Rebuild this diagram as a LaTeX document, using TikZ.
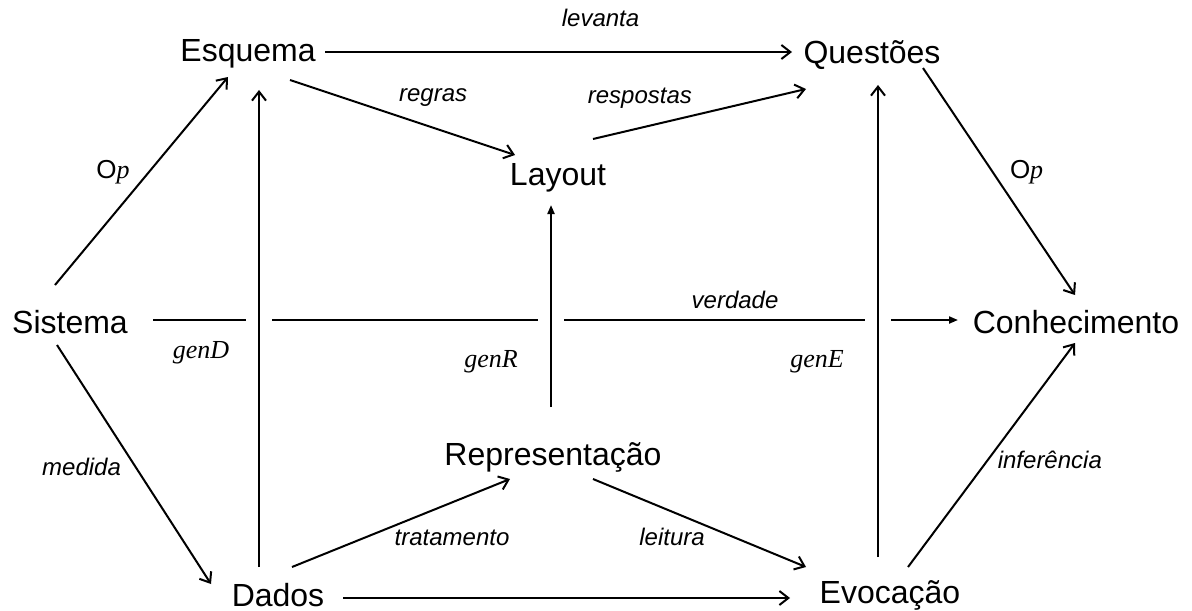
\documentclass[tikz,border=0pt]{standalone}
\usepackage{fontspec}
\setmainfont{Liberation Sans}
\newfontfamily\genfont{Liberation Serif}
\usetikzlibrary{arrows.meta}
\newcommand{\Op}{O{\genfont\itshape p}}

\begin{document}
\begin{tikzpicture}[
    x=0.5pt, y=-0.5pt,
    line width=1pt,
    every node/.style={inner sep=0pt},
    box/.style={anchor=base, font=\fontsize{16}{19}\selectfont},
    lbl/.style={font=\fontsize{12}{14}\selectfont\itshape},
    gen/.style={font=\fontsize{13}{15}\selectfont\genfont\itshape},
    oplbl/.style={font=\fontsize{13}{15}\selectfont},
    arr/.style={-{Straight Barb[length=4.5pt,width=7pt]}},
    farr/.style={-{Triangle[length=4.5pt,width=3.5pt]}},
    halo/.style={preaction={draw=white, line width=13pt, -}}
]
\useasboundingbox (0,0) rectangle (1192,610);

% conceitos
\node[box] (esq) at (248,62) {Esquema};
\node[box] (que) at (872,64) {Questões};
\node[box] (lay) at (558,185) {Layout};
\node[box] (sis) at (70,333) {Sistema};
\node[box] (con) at (1076,333) {Conhecimento};
\node[box] (rep) at (553,465) {Representação};
\node[box] (dad) at (278,606) {Dados};
\node[box] (evo) at (890,603) {Evocação};

% linha horizontal (interrompida pelas verticais)
\draw[farr] ([shift={(83,-13)}]sis.base) -- node[lbl, pos=.723, yshift=10pt] {verdade} ([shift={(-118,-13)}]con.base);

% verticais
\draw[arr, halo] ([shift={(-19,-39)}]dad.base) -- node[gen, pos=.449, xshift=-29pt] {genD} ([shift={(11,28)}]esq.base);
\draw[farr, halo] ([shift={(-2,-58)}]rep.base) -- node[gen, pos=.223, xshift=-30pt] {genR} ([shift={(-7,20)}]lay.base);
\draw[arr, halo] ([shift={(-12,-46)}]evo.base) -- node[gen, pos=.413, xshift=-30.5pt] {genE} ([shift={(6,21)}]que.base);

% parte de cima
\draw[arr] ([shift={(77,-10)}]esq.base) -- node[lbl, pos=.59, yshift=17pt] {levanta} ([shift={(-80,-12)}]que.base);
\draw[arr] ([shift={(42,18)}]esq.base) -- node[lbl, pos=.636, yshift=15pt] {regras} ([shift={(-43,-30)}]lay.base);
\draw[arr] ([shift={(35,-46)}]lay.base) -- node[lbl, pos=.22, yshift=15pt] {respostas} ([shift={(-66,25)}]que.base);
\draw[arr] ([shift={(-15,-48)}]sis.base) -- node[oplbl, pos=.543, xshift=-18pt] {\Op} ([shift={(-20,15)}]esq.base);
\draw[arr] ([shift={(51,4)}]que.base) -- node[oplbl, pos=.458, xshift=17pt] {\Op} ([shift={(-1,-38)}]con.base);

% parte de baixo
\draw[arr] ([shift={(-13,12)}]sis.base) -- node[lbl, pos=.51, xshift=-27pt] {medida} ([shift={(-67,-22)}]dad.base);
\draw[arr] ([shift={(14,-39)}]dad.base) -- node[lbl, pos=.734, yshift=-17.5pt] {tratamento} ([shift={(-43,14)}]rep.base);
\draw[arr] ([shift={(40,14)}]rep.base) -- node[lbl, pos=.371, yshift=-12.5pt] {leitura} ([shift={(-84,-36)}]evo.base);
\draw[arr] ([shift={(65,-8)}]dad.base) -- ([shift={(-100,-5)}]evo.base);
\draw[arr] ([shift={(18,-36)}]evo.base) -- node[lbl, pos=.478, xshift=31pt] {inferência} ([shift={(-1,10)}]con.base);
\end{tikzpicture}
\end{document}
